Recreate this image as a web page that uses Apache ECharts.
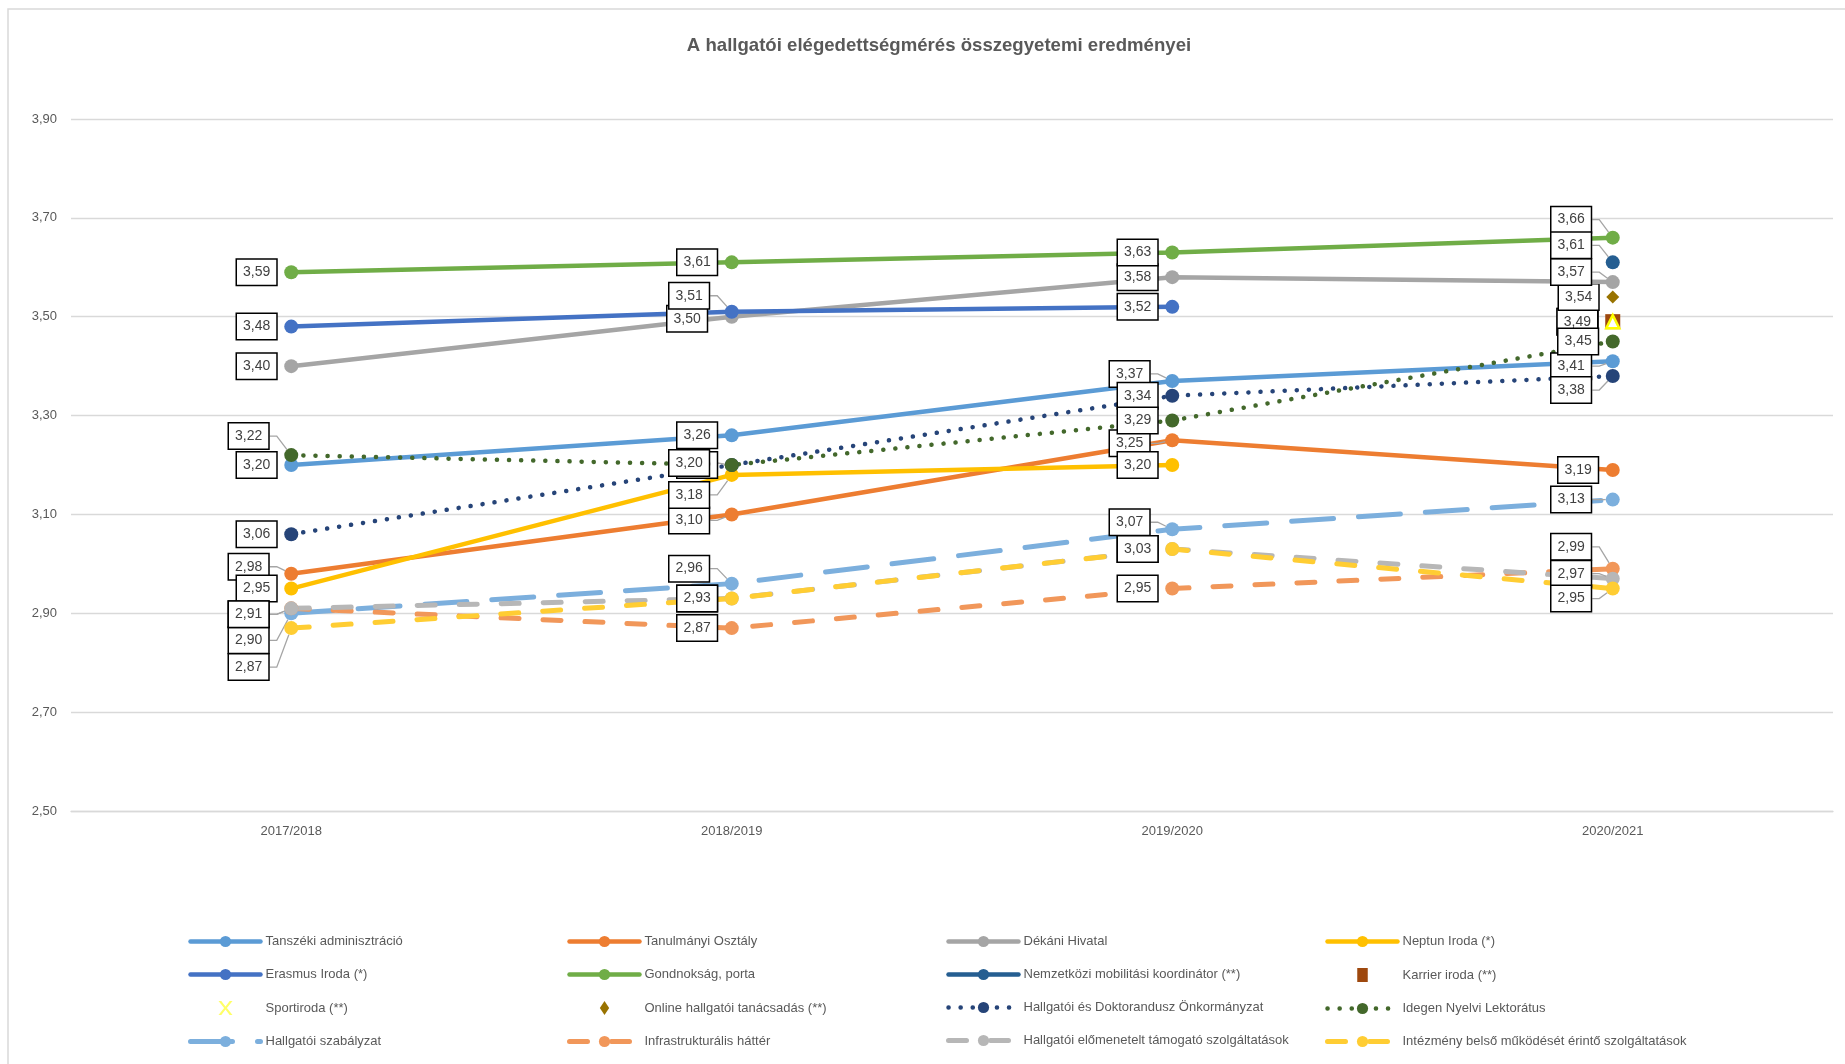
<!DOCTYPE html>
<html>
<head>
<meta charset="utf-8">
<script src="https://cdn.jsdelivr.net/npm/echarts@6/dist/echarts.min.js"></script>
<style>
html,body{margin:0;padding:0;background:#fff;}
#chart{width:1845px;height:1064px;}
</style>
</head>
<body>
<div id="chart"></div>
<script>
// ---- data ----
const categories = ['2017/2018', '2018/2019', '2019/2020', '2020/2021'];
const tanszekiAdmin   = [3.20, 3.26, 3.37, 3.41];
const tanulmanyiOszt  = [2.98, 3.10, 3.25, 3.19];
const dekaniHivatal   = [3.40, 3.50, 3.58, 3.57];
const neptunIroda     = [2.95, 3.18, 3.20, null];
const erasmusIroda    = [3.48, 3.51, 3.52, null];
const gondnoksag      = [3.59, 3.61, 3.63, 3.66];
const nemzetkoziMob   = [null, null, null, 3.61];
const karrierIroda    = [null, null, null, 3.49];
const sportiroda      = [null, null, null, 3.49];
const onlineTanacs    = [null, null, null, 3.54];
const onkormanyzat    = [3.06, 3.20, 3.34, 3.38];
const idegenNyelvi    = [3.22, 3.20, 3.29, 3.45];
const szabalyzat      = [2.90, 2.96, 3.07, 3.13];
const infrastruktura  = [2.91, 2.87, 2.95, 2.99];
const elomenetel      = [2.91, 2.93, 3.03, 2.97];
const intezmenyBelso  = [2.87, 2.93, 3.03, 2.95];

// label nudges (dx, dy in px) for crowded labels, per point
const shifts = {
  'Tanszéki adminisztráció': [null, null, [-8, -7], [-7, 5]],
  'Tanulmányi Osztály': [[-8, -7], [-8, 6], [-8, 3], null],
  'Dékáni Hivatal': [null, [-10, 2], null, [-7, -10]],
  'Neptun Iroda (*)': [null, [-8, 20], null, null],
  'Erasmus Iroda (*)': [null, [-8, -16], null, null],
  'Gondnokság, porta': [null, null, null, [-7, -18]],
  'Nemzetközi mobilitási koordinátor (**)': [null, null, null, [-7, -17]],
  'Hallgatói és Doktorandusz Önkormányzat': [null, null, null, [-7, 14]],
  'Idegen Nyelvi Lektorátus': [[-8, -19], [-8, -2], null, null],
  'Hallgatói szabályzat': [[-8, 27], [-8, -15], [-8, -7], [-7, 0]],
  'Infrastrukturális háttér': [[-8, 6], null, null, [-7, -22]],
  'Hallgatói előmenetelt támogató szolgáltatások': [[-8, 6], null, null, [-7, -5]],
  'Intézmény belső működését érintő szolgáltatások': [[-8, 39], null, null, [-7, 10]]
};

const fmt = v => v.toFixed(2).replace('.', ',');
const labelStyle = {
  show: true, position: 'left', distance: 8,
  formatter: p => fmt(p.value),
  fontFamily: 'Liberation Sans, Arial, sans-serif', fontSize: 14, color: '#404040',
  backgroundColor: '#fff', borderColor: '#000', borderWidth: 1.5,
  padding: [5, 6, 4, 6], lineHeight: 16
};

function mkData(name, arr) {
  const sh = shifts[name] || [];
  return arr.map((v, i) => {
    if (v == null) return '-';
    return { value: v, labelLine: { show: !!sh[i] } };
  });
}

const solid = { width: 4.5, cap: 'round' };
const dotted = { width: 4.5, type: [0.1, 12], cap: 'round' };
const dashLong = { width: 5, type: [42, 25], cap: 'round' };
const dashShort = { width: 5, type: [18, 24], cap: 'round' };

const seriesList = [];
function line(name, arr, color, ls) {
  seriesList.push({
    name, type: 'line', data: mkData(name, arr),
    symbol: 'circle', symbolSize: 14,
    itemStyle: { color },
    lineStyle: Object.assign({ color }, ls),
    label: labelStyle,
    labelLine: { show: false, length2: 7, lineStyle: { color: '#A5A5A5', width: 1.3 } },
    emphasis: { disabled: true },
    connectNulls: false
  });
}
function point(name, arr, color, symbol, size, extraStyle) {
  seriesList.push({
    name, type: 'scatter', data: mkData(name, arr),
    symbol, symbolSize: size,
    itemStyle: Object.assign({ color, opacity: 1 }, extraStyle || {}),
    label: labelStyle,
    labelLine: { show: false, length2: 7, lineStyle: { color: '#A5A5A5', width: 1.3 } },
    emphasis: { disabled: true }
  });
}

line('Tanszéki adminisztráció', tanszekiAdmin, '#5B9BD5', solid);
line('Tanulmányi Osztály', tanulmanyiOszt, '#ED7D31', solid);
line('Dékáni Hivatal', dekaniHivatal, '#A5A5A5', solid);
line('Neptun Iroda (*)', neptunIroda, '#FFC000', solid);
line('Erasmus Iroda (*)', erasmusIroda, '#4472C4', solid);
line('Gondnokság, porta', gondnoksag, '#70AD47', solid);
line('Nemzetközi mobilitási koordinátor (**)', nemzetkoziMob, '#255E91', solid);
point('Karrier iroda (**)', karrierIroda, '#9E480E', 'rect', 15);
point('Sportiroda (**)', sportiroda, '#FFFFFF', 'triangle', 13, { borderColor: '#FFFF00', borderWidth: 2.5 });
point('Online hallgatói tanácsadás (**)', onlineTanacs, '#997300', 'diamond', 13);
line('Hallgatói és Doktorandusz Önkormányzat', onkormanyzat, '#264478', dotted);
line('Idegen Nyelvi Lektorátus', idegenNyelvi, '#43682B', dotted);
line('Hallgatói szabályzat', szabalyzat, '#7CAFDD', dashLong);
line('Infrastrukturális háttér', infrastruktura, '#F1975A', dashShort);
line('Hallgatói előmenetelt támogató szolgáltatások', elomenetel, '#B7B7B7', dashShort);
line('Intézmény belső működését érintő szolgáltatások', intezmenyBelso, '#FFCD33', dashShort);

const xPath = 'path://M0,0 L2,0 L5,4 L8,0 L10,0 L6,5 L10,10 L8,10 L5,6 L2,10 L0,10 L4,5 Z';
const sqPath = 'path://M0,0 L9,0 L9,12 L0,12 Z';
const dmPath = 'path://M4,0 L8,6 L4,12 L0,6 Z';
const legendCols = [
  ['Tanszéki adminisztráció', 'Erasmus Iroda (*)', { name: 'Sportiroda (**)', icon: xPath, itemStyle: { color: '#FFFF66', borderWidth: 0 } }, 'Hallgatói szabályzat'],
  ['Tanulmányi Osztály', 'Gondnokság, porta', { name: 'Online hallgatói tanácsadás (**)', icon: dmPath }, 'Infrastrukturális háttér'],
  ['Dékáni Hivatal', 'Nemzetközi mobilitási koordinátor (**)', 'Hallgatói és Doktorandusz Önkormányzat', 'Hallgatói előmenetelt támogató szolgáltatások'],
  ['Neptun Iroda (*)', { name: 'Karrier iroda (**)', icon: sqPath }, 'Idegen Nyelvi Lektorátus', 'Intézmény belső működését érintő szolgáltatások']
];
const legendLefts = [183, 562, 941, 1320];

const chart = echarts.init(document.getElementById('chart'));
chart.setOption({
  backgroundColor: '#fff',
  animation: false,
  textStyle: { fontFamily: 'Liberation Sans, Arial, sans-serif' },
  title: {
    text: 'A hallgatói elégedettségmérés összegyetemi eredményei',
    left: 934, top: 31, textAlign: 'center',
    textStyle: { fontSize: 18.6, fontWeight: 'bold', color: '#595959', fontFamily: 'Liberation Sans, Arial, sans-serif' }
  },
  graphic: [{
    type: 'rect', silent: true, z: -10,
    shape: { x: 8, y: 9, width: 1900, height: 1100 },
    style: { fill: 'none', stroke: '#D9D9D9', lineWidth: 1.5 }
  }],
  grid: { left: 71, right: 12, top: 119, bottom: 253, containLabel: false, outerBoundsMode: 'none' },
  xAxis: {
    type: 'category', data: categories, boundaryGap: true,
    axisLine: { lineStyle: { color: '#D9D9D9', width: 1.3 } },
    axisTick: { show: false },
    axisLabel: { color: '#595959', fontSize: 13, margin: 14 }
  },
  yAxis: {
    type: 'value', min: 2.5, max: 3.9, interval: 0.1,
    axisLine: { show: false }, axisTick: { show: false },
    axisLabel: {
      color: '#595959', fontSize: 13, margin: 14,
      formatter: v => (Math.round(v * 10) % 2 === 1 ? fmt(v) : '')
    },
    splitLine: { lineStyle: { color: ['#D9D9D9', 'rgba(0,0,0,0)'], width: 1.3 } }
  },
  legend: legendCols.map((col, i) => ({
    data: col, orient: 'vertical', left: legendLefts[i], top: 930,
    itemWidth: 70, itemHeight: 14, itemGap: 20,
    selectedMode: false,
    lineStyle: { width: 'inherit' },
    textStyle: { fontSize: 13, color: '#595959' }
  })),
  labelLayout: function (params) {
    const s = seriesList[params.seriesIndex];
    const sh = shifts[s.name];
    if (!sh || !sh[params.dataIndex]) return {};
    return { dx: sh[params.dataIndex][0], dy: sh[params.dataIndex][1] };
  },
  series: seriesList
});
</script>
</body>
</html>
